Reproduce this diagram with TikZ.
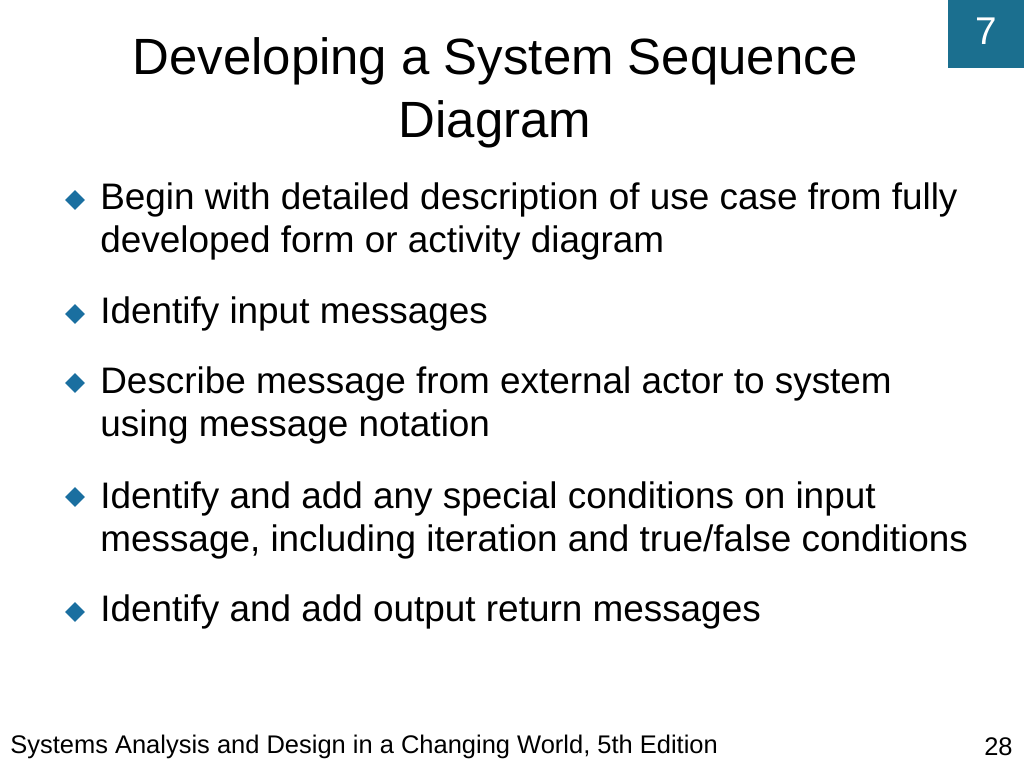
\documentclass[tikz,border=0pt]{standalone}
\usepackage{fontspec}
\setmainfont{Liberation Sans}
\usetikzlibrary{positioning,shapes.geometric}
\definecolor{slideteal}{HTML}{1B6F8F}
\definecolor{bulletblue}{HTML}{1A6FA0}
\tikzset{titletext/.style={align=center,font=\fontsize{29}{35.5}\selectfont}}
\tikzset{bullettext/.style={anchor=west,align=left,inner sep=0pt,font=\fontsize{21}{24.5}\selectfont}}
\tikzset{bulletmark/.style={diamond,fill=bulletblue,inner sep=0pt,minimum size=0.4cm}}
\tikzset{footertext/.style={inner sep=0pt,font=\fontsize{14.5}{16}\selectfont}}
\begin{document}
\begin{tikzpicture}[x=0.02cm,y=-0.02cm]
    \useasboundingbox[fill=white] (0,0) rectangle (1024,768);
    \fill[slideteal] (948,0) rectangle (1024,68);
    \node[text=white,font=\fontsize{22}{24}\selectfont] (num) at (986,31) {7};

    \node[titletext] (title) at (495,93) {Developing a System Sequence\\Diagram};

    \node[bulletmark] (m1) at (75,200) {};
    \node[bulletmark] (m2) at (75,314) {};
    \node[bulletmark] (m3) at (75,383) {};
    \node[bulletmark] (m4) at (75,497) {};
    \node[bulletmark] (m5) at (75,612) {};

    \node[bullettext] (b1) at (100,221.5) {Begin with detailed description of use case from fully\\developed form or activity diagram};
    \node[bullettext] (b2) at (100,314) {Identify input messages};
    \node[bullettext] (b3) at (100,405.5) {Describe message from external actor to system\\using message notation};
    \node[bullettext] (b4) at (100,520) {Identify and add any special conditions on input\\message, including iteration and true/false conditions};
    \node[bullettext] (b5) at (100,612) {Identify and add output return messages};

    \node[footertext,anchor=west] (foot) at (10,747) {Systems Analysis and Design in a Changing World, 5th Edition};
    \node[footertext,anchor=east] (page) at (1013,747) {28};
  \end{tikzpicture}
\end{document}
